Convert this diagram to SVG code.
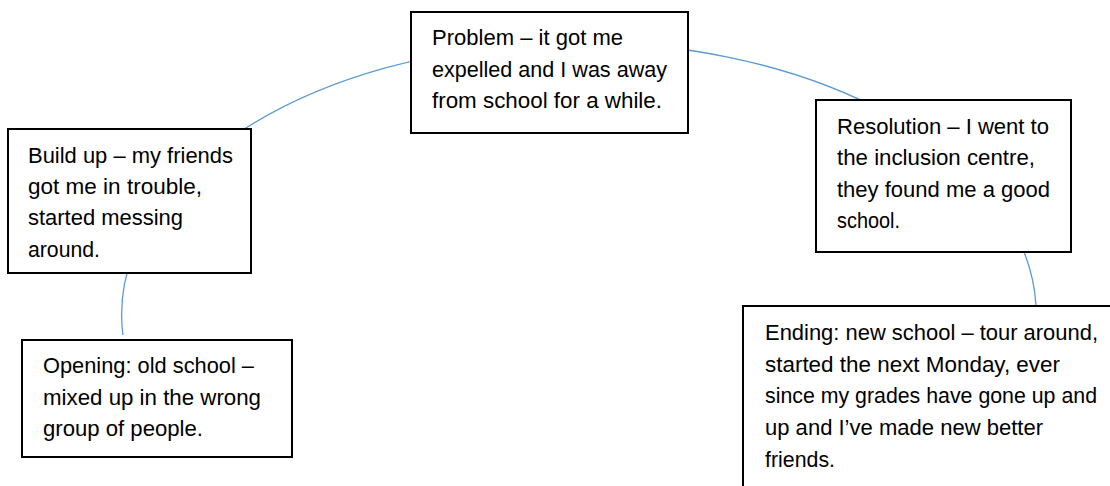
<svg xmlns="http://www.w3.org/2000/svg" width="1110" height="486" viewBox="0 0 1110 486">
<style>
.box{fill:#fff;stroke:#000;stroke-width:2}
.t{font-family:"Liberation Sans",Arial,sans-serif;font-size:22px;fill:#000}
.arc{fill:none;stroke:#5B9BD5;stroke-width:1.3}
</style>
<rect width="1110" height="486" fill="#fff"/>
<g id="connectors">
<path class="arc" d="M 122.9 335 A 457.3 272.5 0 1 1 1036 306"/>
</g>
<g id="opening">
<rect class="box" x="22" y="340" width="270" height="117"/>
<text class="t" x="43" y="373" textLength="211" lengthAdjust="spacingAndGlyphs">Opening: old school –</text>
<text class="t" x="43" y="405" textLength="218" lengthAdjust="spacingAndGlyphs">mixed up in the wrong</text>
<text class="t" x="43" y="436" textLength="160" lengthAdjust="spacingAndGlyphs">group of people.</text>
</g>
<g id="buildup">
<rect class="box" x="8" y="129" width="243" height="144"/>
<text class="t" x="28" y="163" textLength="205" lengthAdjust="spacingAndGlyphs">Build up – my friends</text>
<text class="t" x="28" y="194" textLength="174" lengthAdjust="spacingAndGlyphs">got me in trouble,</text>
<text class="t" x="28" y="225" textLength="155" lengthAdjust="spacingAndGlyphs">started messing</text>
<text class="t" x="28" y="257" textLength="72" lengthAdjust="spacingAndGlyphs">around.</text>
</g>
<g id="problem">
<rect class="box" x="411" y="12" width="277" height="121"/>
<text class="t" x="432" y="45" textLength="191" lengthAdjust="spacingAndGlyphs">Problem – it got me</text>
<text class="t" x="432" y="77" textLength="235" lengthAdjust="spacingAndGlyphs">expelled and I was away</text>
<text class="t" x="432" y="108" textLength="230" lengthAdjust="spacingAndGlyphs">from school for a while.</text>
</g>
<g id="resolution">
<rect class="box" x="816" y="100" width="255" height="152"/>
<text class="t" x="837" y="134" textLength="212" lengthAdjust="spacingAndGlyphs">Resolution – I went to</text>
<text class="t" x="837" y="165" textLength="198" lengthAdjust="spacingAndGlyphs">the inclusion centre,</text>
<text class="t" x="837" y="197" textLength="213" lengthAdjust="spacingAndGlyphs">they found me a good</text>
<text class="t" x="837" y="228" textLength="63" lengthAdjust="spacingAndGlyphs">school.</text>
</g>
<g id="ending">
<rect class="box" x="743" y="306" width="400" height="200"/>
<text class="t" x="765" y="340" textLength="333" lengthAdjust="spacingAndGlyphs">Ending: new school – tour around,</text>
<text class="t" x="765" y="372" textLength="295" lengthAdjust="spacingAndGlyphs">started the next Monday, ever</text>
<text class="t" x="765" y="403" textLength="332" lengthAdjust="spacingAndGlyphs">since my grades have gone up and</text>
<text class="t" x="765" y="435" textLength="278" lengthAdjust="spacingAndGlyphs">up and I’ve made new better</text>
<text class="t" x="765" y="467" textLength="70" lengthAdjust="spacingAndGlyphs">friends.</text>
</g>
</svg>
